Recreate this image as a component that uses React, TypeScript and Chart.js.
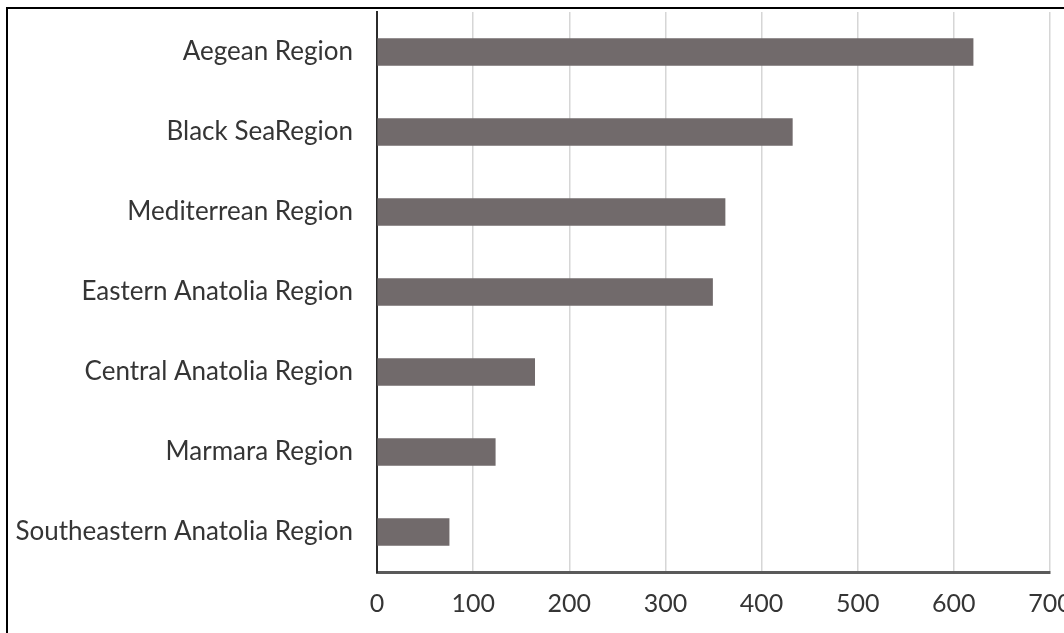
import React, { useEffect, useRef } from "react";
import { Chart, registerables } from "chart.js";

Chart.register(...registerables);

const categories = [
  "Aegean Region",
  "Black SeaRegion",
  "Mediterrean Region",
  "Eastern Anatolia Region",
  "Central Anatolia Region",
  "Marmara Region",
  "Southeastern Anatolia Region",
];
const values = [620, 432, 362, 349, 164, 123, 75];
const xMin = 0;
const xMax = 700;
const xStep = 100;

const FONT = "Lato, 'Open Sans', sans-serif";

export default function App() {
  const ref = useRef<HTMLCanvasElement | null>(null);

  useEffect(() => {
    if (!ref.current) return;
    const chart = new Chart(ref.current, {
      type: "bar",
      data: {
        labels: categories,
        datasets: [
          {
            data: values,
            backgroundColor: "#716a6b",
            borderWidth: 0,
            barThickness: 27,
          },
        ],
      },
      options: {
        indexAxis: "y",
        animation: false,
        responsive: false,
        maintainAspectRatio: false,
        layout: { padding: { top: 12, left: 0, right: 0, bottom: 0 } },
        plugins: {
          legend: { display: false },
          tooltip: { enabled: false },
          title: { display: false },
        },
        scales: {
          x: {
            type: "linear",
            min: xMin,
            max: xMax,
            ticks: {
              stepSize: xStep,
              padding: 17,
              color: "#353535",
              font: { family: FONT, size: 25 },
            },
            grid: {
              color: "#d6d6d6",
              lineWidth: 1.5,
              drawTicks: false,
            },
            border: { display: true, color: "#5a5a5a", width: 3 },
            afterFit: (s: any) => {
              s.height = 61;
              s.paddingRight = 14;
              s.paddingLeft = 0;
            },
          },
          y: {
            type: "category",
            ticks: {
              padding: 24,
              color: "#353535",
              font: { family: FONT, size: 26 },
            },
            grid: { display: false, drawTicks: false },
            border: { display: true, color: "#2b2b2b", width: 2 },
            afterFit: (s: any) => {
              s.width = 377;
              s.paddingTop = 0;
              s.paddingBottom = 0;
            },
          },
        },
      },
    });
    return () => chart.destroy();
  }, []);

  return (
    <div
      style={{
        position: "fixed",
        left: 0,
        top: 0,
        width: 1064,
        height: 633,
        overflow: "hidden",
        background: "#ffffff",
      }}
    >
      <canvas
        ref={ref}
        width={1064}
        height={633}
        style={{ position: "absolute", left: 0, top: 0, width: 1064, height: 633 }}
      />
      <div
        style={{
          position: "absolute",
          left: 6,
          top: 7,
          width: 1200,
          height: 800,
          border: "2px solid #000",
          boxSizing: "border-box",
          pointerEvents: "none",
        }}
      />
    </div>
  );
}
